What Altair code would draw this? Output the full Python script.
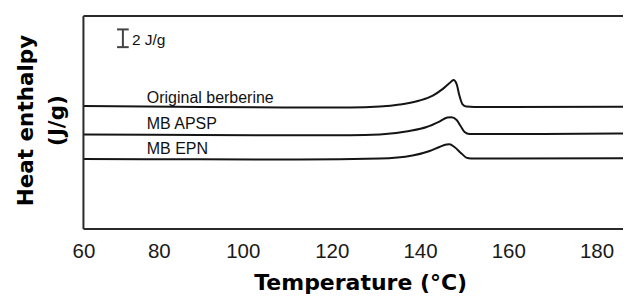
import altair as alt
import pandas as pd

# Temperature (°C) and heat-flow (J/g, arbitrary offset)
temp_orig = [60, 89.8, 112.8, 124.1, 130.9, 135.4, 139.9, 142.9, 145.1, 146.7, 147.6, 148.3, 148.9, 149.6, 150.5, 152.3, 186]
enth_orig = [13.86, 13.75, 13.69, 13.69, 13.80, 14.03, 14.48, 15.04, 15.77, 16.45, 16.79, 16.34, 15.10, 14.08, 13.80, 13.75, 13.77]

temp_apsp = [60, 89.8, 112.8, 124.1, 130.9, 137.6, 141.5, 144.4, 146.2, 147.1, 148.3, 149.2, 150.1, 151.2, 158.0, 186]
enth_apsp = [10.65, 10.59, 10.56, 10.56, 10.65, 11.04, 11.49, 12.11, 12.56, 12.59, 12.28, 11.61, 10.93, 10.70, 10.70, 10.76]

temp_epn = [60, 89.8, 112.8, 130.9, 138.3, 142.2, 144.4, 146.0, 146.7, 147.8, 149.4, 150.7, 152.3, 186]
enth_epn = [7.89, 7.85, 7.83, 7.94, 8.28, 8.79, 9.24, 9.52, 9.54, 9.24, 8.51, 8.00, 7.94, 7.97]

series_names = ["Original berberine", "MB APSP", "MB EPN"]
label_temp = [76.8, 76.8, 76.8]
label_enth = [14.20, 11.23, 8.45]

x_ticks = [60, 80, 100, 120, 140, 160, 180]
x_min, x_max = 60, 186
y_min, y_max = 0, 24

# scale bar (2 J/g)
bar_temp = 70.46
bar_lo = 20.5
bar_hi = 22.5
bar_half_width = 1.55
bar_text = "2 J/g"
bar_text_temp = 72.85
bar_text_enth = 20.73

rows = []
for name, ts, vs in zip(series_names, [temp_orig, temp_apsp, temp_epn], [enth_orig, enth_apsp, enth_epn]):
    for t, v in zip(ts, vs):
        rows.append({"series": name, "temp": t, "enth": v})
df = pd.DataFrame(rows)

lab_df = pd.DataFrame({"label": series_names, "temp": label_temp, "enth": label_enth})

x_scale = alt.Scale(domain=[60, 80, 100, 120, 180, 186],
                    range=[0, 75.5, 159.5, 248.5, 513.5, 540],
                    zero=False, nice=False)
y_scale = alt.Scale(domain=[y_min, y_max], zero=False, nice=False)

x_axis = alt.Axis(values=x_ticks, title="Temperature (°C)", domain=False, ticks=False, grid=False,
                  labelFont="Liberation Sans", labelFontSize=20.5, labelColor="#1a1a1a",
                  labelPadding=13, labelFlush=False, labelOverlap=False,
                  titleFont="DejaVu Sans", titleFontWeight="bold", titleFontSize=22,
                  titleColor="#000000", titleX=277, titleY=61, titleBaseline="alphabetic",
                  titleAlign="center")
y_axis = alt.Axis(title=["Heat enthalpy", "(J/g)"], domain=False, ticks=False, labels=False, grid=False,
                  titleFont="DejaVu Sans", titleFontWeight="bold", titleFontSize=21.5,
                  titleColor="#000000", titleAngle=270, titleBaseline="alphabetic",
                  titleAlign="center", titleX=-51, titleY=104, titleLineHeight=31)

lines = alt.Chart(df).mark_line(color="#151515", strokeWidth=2, interpolate="monotone", clip=True).encode(
    x=alt.X("temp:Q", scale=x_scale, axis=x_axis),
    y=alt.Y("enth:Q", scale=y_scale, axis=y_axis),
    detail="series:N",
)

labels = alt.Chart(lab_df).mark_text(align="left", baseline="alphabetic", font="Liberation Sans",
                                     fontSize=16, color="#111111").encode(
    x=alt.X("temp:Q", scale=x_scale), y=alt.Y("enth:Q", scale=y_scale), text="label:N")

# frame: left, top, bottom (open on the right as in the reference)
frame_df = pd.DataFrame({"x": [x_min, x_min, x_min], "x2": [x_min, x_max, x_max],
                         "y": [y_min, y_max, y_min], "y2": [y_max, y_max, y_min]})
frame = alt.Chart(frame_df).mark_rule(color="#2a2a2a", strokeWidth=2).encode(
    x=alt.X("x:Q", scale=x_scale), x2="x2:Q", y=alt.Y("y:Q", scale=y_scale), y2="y2:Q")

bar_df = pd.DataFrame({"temp": [bar_temp], "lo": [bar_lo], "hi": [bar_hi],
                       "l": [bar_temp - bar_half_width], "r": [bar_temp + bar_half_width]})
bar_v = alt.Chart(bar_df).mark_rule(color="#444444", strokeWidth=2).encode(
    x=alt.X("temp:Q", scale=x_scale), y=alt.Y("lo:Q", scale=y_scale), y2="hi:Q")
bar_t = alt.Chart(bar_df).mark_rule(color="#444444", strokeWidth=2).encode(
    x=alt.X("l:Q", scale=x_scale), x2="r:Q", y=alt.Y("hi:Q", scale=y_scale))
bar_b = alt.Chart(bar_df).mark_rule(color="#444444", strokeWidth=2).encode(
    x=alt.X("l:Q", scale=x_scale), x2="r:Q", y=alt.Y("lo:Q", scale=y_scale))
bar_label = alt.Chart(pd.DataFrame({"t": [bar_text], "temp": [bar_text_temp], "enth": [bar_text_enth]})).mark_text(
    align="left", baseline="alphabetic", font="Liberation Sans", fontSize=15.5, color="#111111").encode(
    x=alt.X("temp:Q", scale=x_scale), y=alt.Y("enth:Q", scale=y_scale), text="t:N")

chart = alt.layer(lines, frame, labels, bar_v, bar_t, bar_b, bar_label).properties(
    width=540, height=213,
    autosize=alt.AutoSizeParams(type="none"),
    padding={"left": 75.5, "top": 8, "right": 0, "bottom": 68},
    background="white",
).configure_view(stroke=None)

chart.save("out.html", embed_options={"renderer": "svg", "actions": False})
